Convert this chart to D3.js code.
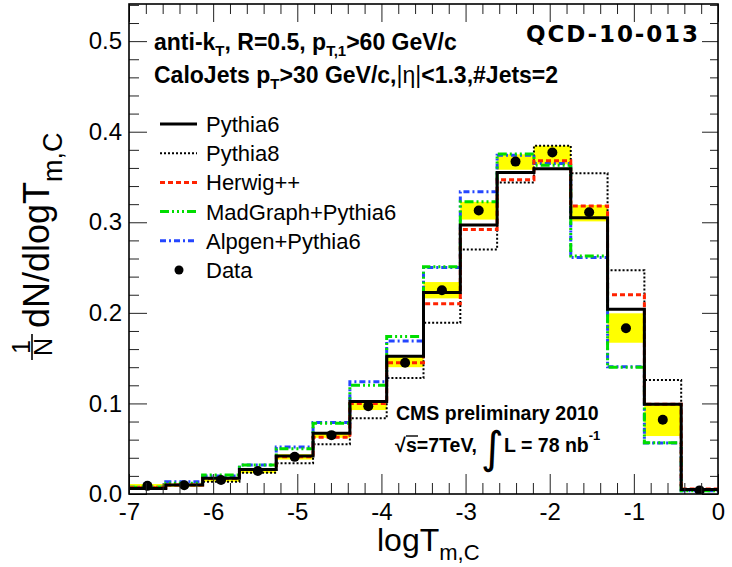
<!DOCTYPE html>
<html>
<head>
<meta charset="utf-8">
<script src="https://cdn.jsdelivr.net/npm/d3@7"></script>
<style>
  html, body { margin: 0; padding: 0; background: #fff; }
  svg { display: block; font-family: "Liberation Sans", Arial, Helvetica, sans-serif; }
</style>
</head>
<body>
<svg id="chart" width="732" height="567"></svg>
<script>
// Bin edges of logT_{m,C} (16 bins between -7 and 0)
const binEdges = [-7, -6.5625, -6.125, -5.6875, -5.25, -4.8125, -4.375, -3.9375,
                  -3.5, -3.0625, -2.625, -2.1875, -1.75, -1.3125, -0.875, -0.4375, 0];

// Measured distribution and its uncertainty band
const dataValues = [0.009, 0.0096, 0.0155, 0.0254, 0.041, 0.065, 0.097, 0.145,
                    0.225, 0.313, 0.367, 0.377, 0.311, 0.183, 0.082, 0.004];
const dataLow    = [0.007, 0.008, 0.0135, 0.023, 0.038, 0.062, 0.0927, 0.140,
                    0.216, 0.303, 0.358, 0.364, 0.301, 0.167, 0.064, 0.003];
const dataHigh   = [0.011, 0.0115, 0.0175, 0.028, 0.044, 0.068, 0.103, 0.152,
                    0.234, 0.3226, 0.375, 0.3845, 0.319, 0.1995, 0.0993, 0.006];

// Monte Carlo predictions
const pythia6  = [0.006, 0.010, 0.0173, 0.027, 0.042, 0.067, 0.102, 0.152,
                  0.2226, 0.297, 0.355, 0.359, 0.305, 0.204, 0.099, 0.005];
const pythia8  = [0.007, 0.010, 0.0136, 0.0235, 0.034, 0.055, 0.0835, 0.128,
                  0.189, 0.270, 0.344, 0.3845, 0.354, 0.247, 0.126, 0.005];
const herwig   = [0.007, 0.010, 0.017, 0.027, 0.041, 0.0626, 0.100, 0.145,
                  0.210, 0.292, 0.347, 0.368, 0.318, 0.220, 0.099, 0.0055];
const madgraph = [0.0074, 0.012, 0.021, 0.032, 0.050, 0.078, 0.120, 0.174,
                  0.251, 0.3226, 0.3753, 0.363, 0.2627, 0.140, 0.0567, 0.0037];
const alpgen   = [0.0074, 0.0136, 0.020, 0.032, 0.052, 0.079, 0.124, 0.169,
                  0.250, 0.3337, 0.374, 0.365, 0.261, 0.1405, 0.0562, 0.0037];

// Axis ticks
const xTickValues = [-7, -6, -5, -4, -3, -2, -1, 0];
const xTickLabels = ["-7", "-6", "-5", "-4", "-3", "-2", "-1", "0"];
const yTickValues = [0, 0.1, 0.2, 0.3, 0.4, 0.5];
const yTickLabels = ["0.0", "0.1", "0.2", "0.3", "0.4", "0.5"];

const legendLabels = ["Pythia6", "Pythia8", "Herwig++", "MadGraph+Pythia6", "Alpgen+Pythia6", "Data"];

const svg = d3.select("#chart");
const frame = { left: 129, right: 718, top: 4, bottom: 494 };

const x = d3.scaleLinear().domain([-7, 0]).range([frame.left, frame.right]);
const y = d3.scaleLinear().domain([0, 0.541]).range([frame.bottom, frame.top]);

const styles = {
  Pythia6:  { color: "#000000", width: 3,   dash: null },
  Pythia8:  { color: "#000000", width: 2,   dash: "2,2" },
  Herwig:   { color: "#ff2200", width: 3,   dash: "5,3" },
  MadGraph: { color: "#00dd00", width: 3,   dash: "9,3,2,3,2,3,2,3" },
  Alpgen:   { color: "#2446ff", width: 3,   dash: "6,3,2,3" }
};

svg.append("defs").append("clipPath").attr("id", "plotclip")
  .append("rect")
  .attr("x", frame.left).attr("y", frame.top)
  .attr("width", frame.right - frame.left).attr("height", frame.bottom - frame.top);

const plot = svg.append("g").attr("clip-path", "url(#plotclip)");

// Data uncertainty band
plot.selectAll("rect.band").data(dataValues).enter().append("rect")
  .attr("class", "band")
  .attr("x", (d, i) => x(binEdges[i]))
  .attr("width", (d, i) => x(binEdges[i + 1]) - x(binEdges[i]))
  .attr("y", (d, i) => y(dataHigh[i]))
  .attr("height", (d, i) => y(dataLow[i]) - y(dataHigh[i]))
  .attr("fill", "#ffff00");

// Step histograms
function stepPoints(values) {
  const pts = [];
  values.forEach((v, i) => { pts.push([binEdges[i], v]); pts.push([binEdges[i + 1], v]); });
  return pts;
}
const line = d3.line().x(d => x(d[0])).y(d => y(d[1]));

const drawOrder = [
  ["Pythia8", pythia8], ["Alpgen", alpgen], ["MadGraph", madgraph],
  ["Herwig", herwig], ["Pythia6", pythia6]
];
drawOrder.forEach(([key, vals]) => {
  const s = styles[key];
  plot.append("path")
    .attr("d", line(stepPoints(vals)))
    .attr("fill", "none")
    .attr("stroke", s.color)
    .attr("stroke-width", s.width)
    .attr("stroke-dasharray", s.dash);
});

// Data points
plot.selectAll("circle.data").data(dataValues).enter().append("circle")
  .attr("class", "data")
  .attr("cx", (d, i) => x((binEdges[i] + binEdges[i + 1]) / 2))
  .attr("cy", d => y(d))
  .attr("r", 5)
  .attr("fill", "#000");

// Axes: ticks point into the frame
const xMinor = d3.range(-7, 0.0001, 0.2).filter(v => Math.abs(v - Math.round(v)) > 1e-6);
const yMinor = d3.range(0, 0.541, 0.02).filter(v => Math.abs(v * 10 - Math.round(v * 10)) > 1e-6);

function styleAxis(g, fontSize) {
  g.select(".domain").remove();
  g.selectAll(".tick line").attr("stroke", "#222").attr("stroke-width", 1);
  g.selectAll("text").attr("fill", "#000").style("font-size", fontSize)
    .style("font-family", '"Liberation Sans", Arial, sans-serif');
}

svg.append("g").attr("transform", `translate(0,${frame.bottom})`)
  .call(d3.axisBottom(x).tickValues(xTickValues).tickSize(-20).tickPadding(9)
        .tickFormat((d, i) => xTickLabels[i]))
  .call(g => styleAxis(g, "24px"));
svg.append("g").attr("transform", `translate(0,${frame.bottom})`)
  .call(d3.axisBottom(x).tickValues(xMinor).tickSize(-11).tickFormat(""))
  .call(g => styleAxis(g, "0px"));
svg.append("g").attr("transform", `translate(0,${frame.top})`)
  .call(d3.axisTop(x).tickValues(xTickValues).tickSize(-18).tickFormat(""))
  .call(g => styleAxis(g, "0px"));
svg.append("g").attr("transform", `translate(0,${frame.top})`)
  .call(d3.axisTop(x).tickValues(xMinor).tickSize(-10).tickFormat(""))
  .call(g => styleAxis(g, "0px"));

svg.append("g").attr("transform", `translate(${frame.left},0)`)
  .call(d3.axisLeft(y).tickValues(yTickValues).tickSize(-18).tickPadding(7)
        .tickFormat((d, i) => yTickLabels[i]))
  .call(g => styleAxis(g, "24px"));
svg.append("g").attr("transform", `translate(${frame.left},0)`)
  .call(d3.axisLeft(y).tickValues(yMinor).tickSize(-10).tickFormat(""))
  .call(g => styleAxis(g, "0px"));
svg.append("g").attr("transform", `translate(${frame.right},0)`)
  .call(d3.axisRight(y).tickValues(yTickValues).tickSize(-16).tickFormat(""))
  .call(g => styleAxis(g, "0px"));
svg.append("g").attr("transform", `translate(${frame.right},0)`)
  .call(d3.axisRight(y).tickValues(yMinor).tickSize(-8).tickFormat(""))
  .call(g => styleAxis(g, "0px"));

// Frame
svg.append("rect")
  .attr("x", frame.left).attr("y", frame.top)
  .attr("width", frame.right - frame.left).attr("height", frame.bottom - frame.top)
  .attr("fill", "none").attr("stroke", "#000").attr("stroke-width", 1.6);

// Axis titles
const xt = svg.append("text").attr("x", 377).attr("y", 551).style("font-size", "32px");
xt.append("tspan").text("logT");
xt.append("tspan").attr("dy", 9).style("font-size", "22px").text("m,C");

const yt = svg.append("g").attr("transform", "translate(49,360) rotate(-90)");
yt.append("text").attr("x", 13).attr("y", -19).attr("text-anchor", "middle")
  .style("font-size", "25px").text("1");
yt.append("line").attr("x1", 0).attr("x2", 26).attr("y1", -17).attr("y2", -17)
  .attr("stroke", "#000").attr("stroke-width", 1.6);
yt.append("text").attr("x", 13).attr("y", 3).attr("text-anchor", "middle")
  .style("font-size", "25px").text("N");
const ytMain = yt.append("text").attr("x", 32).attr("y", 0).style("font-size", "36px");
ytMain.append("tspan").text("dN/dlogT");
ytMain.append("tspan").attr("dy", 13).style("font-size", "27px").text("m,C");

// Selection header
const h1 = svg.append("text").attr("x", 154).attr("y", 50)
  .style("font-size", "23px").style("font-weight", "bold");
h1.append("tspan").text("anti-k");
h1.append("tspan").attr("dy", 6).style("font-size", "15px").text("T");
h1.append("tspan").attr("dy", -6).text(", R=0.5, p");
h1.append("tspan").attr("dy", 6).style("font-size", "15px").text("T,1");
h1.append("tspan").attr("dy", -6).text(">60 GeV/c");

const h2 = svg.append("text").attr("x", 154).attr("y", 83)
  .style("font-size", "23px").style("font-weight", "bold");
h2.append("tspan").text("CaloJets p");
h2.append("tspan").attr("dy", 6).style("font-size", "15px").text("T");
h2.append("tspan").attr("dy", -6).text(">30 GeV/c,");
h2.append("tspan").style("font-weight", "normal").text("|η|");
h2.append("tspan").text("<1.3,#Jets=2");

svg.append("text").attr("x", 526).attr("y", 42)
  .attr("textLength", 172).attr("lengthAdjust", "spacing")
  .style("font-family", '"DejaVu Sans", sans-serif')
  .style("font-size", "23px").style("font-weight", "bold")
  .text("QCD-10-013");

// Legend
const legendKeys = ["Pythia6", "Pythia8", "Herwig", "MadGraph", "Alpgen"];
const legend = svg.append("g");
legendLabels.forEach((label, i) => {
  const ly = 124 + i * 29.2;
  if (i < legendKeys.length) {
    const s = styles[legendKeys[i]];
    legend.append("line").attr("x1", 160).attr("x2", 197).attr("y1", ly).attr("y2", ly)
      .attr("stroke", s.color).attr("stroke-width", s.width).attr("stroke-dasharray", s.dash);
  } else {
    legend.append("circle").attr("cx", 179).attr("cy", ly).attr("r", 4.5).attr("fill", "#000");
  }
  legend.append("text").attr("x", 206).attr("y", ly + 8).style("font-size", "22px").text(label);
});

// Experiment label
svg.append("text").attr("x", 396).attr("y", 420)
  .style("font-size", "19.5px").style("font-weight", "bold")
  .text("CMS preliminary 2010");

const lumi = svg.append("g").style("font-weight", "bold").style("font-size", "19.5px");
lumi.append("text").attr("x", 395).attr("y", 452).text("√");
lumi.append("line").attr("x1", 406).attr("x2", 418).attr("y1", 436).attr("y2", 436)
  .attr("stroke", "#000").attr("stroke-width", 1.4);
lumi.append("text").attr("x", 406).attr("y", 452).text("s=7TeV,");
lumi.append("text").attr("x", 481).attr("y", 463)
  .style("font-family", '"DejaVu Sans", sans-serif').style("font-weight", "normal")
  .style("font-size", "44px").text("∫");
const lt = lumi.append("text").attr("x", 504).attr("y", 452);
lt.append("tspan").text("L = 78 nb");
lt.append("tspan").attr("dy", -12).style("font-size", "13px").text("-1");
</script>
</body>
</html>
